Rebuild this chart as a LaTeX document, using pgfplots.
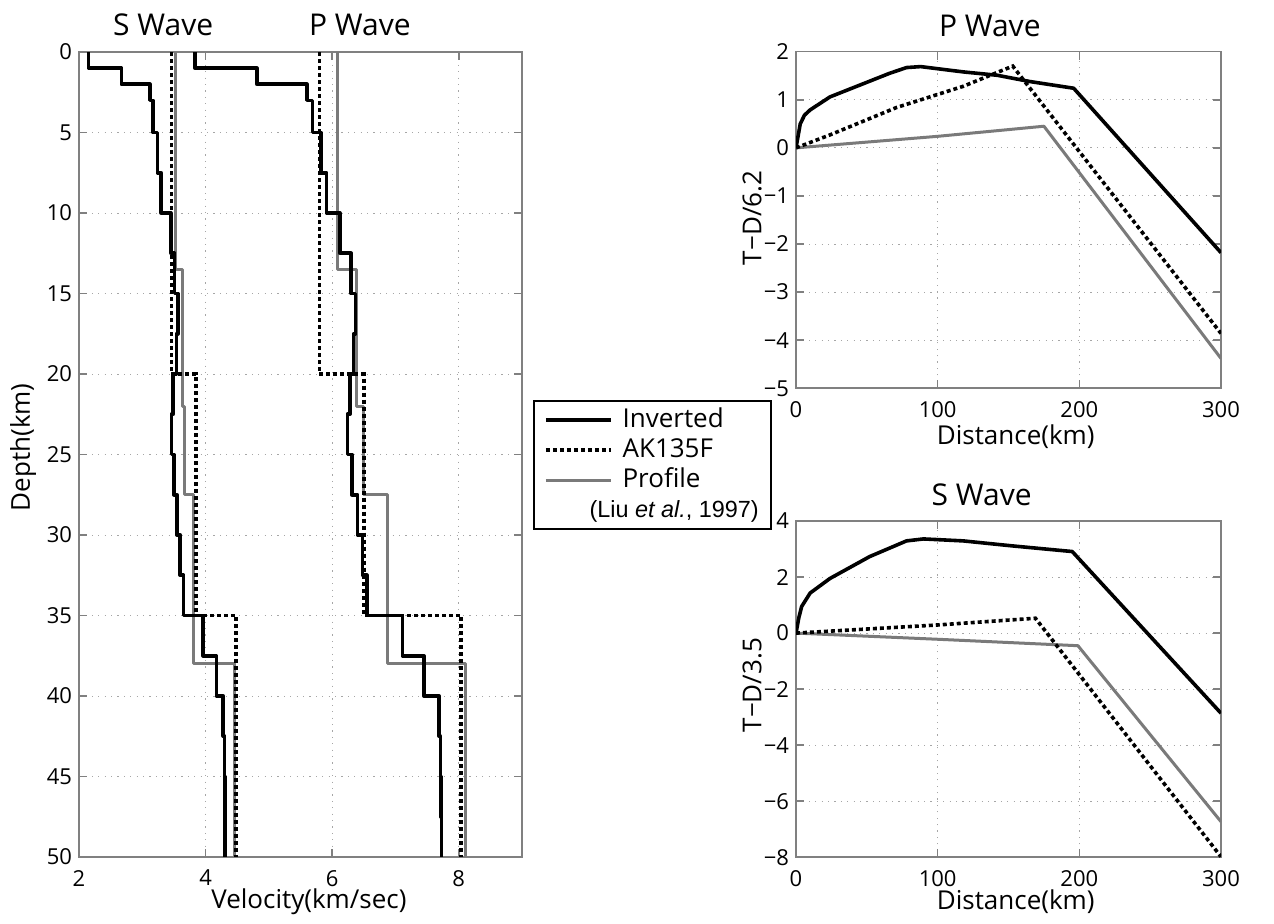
\documentclass[border=0pt]{standalone}
\usepackage{fontspec}
\setmainfont{Open Sans}
\newfontfamily\liufont{Liberation Sans}
\usepackage{pgfplots}
\pgfplotsset{compat=1.18}
\begin{document}
\begin{tikzpicture}
\useasboundingbox (0pt,0pt) rectangle (637pt,462pt);
\pgfplotsset{
  mstyle/.style={
    scale only axis,
    clip mode=individual,
    axis line style={black!50, line width=0.8pt},
    tick style={black!50, line width=0.8pt},
    major tick length=4pt,
    tick align=inside,
    grid=major,
    major grid style={black!35, line width=0.5pt, dash pattern=on 0.6pt off 2.6pt},
    ticklabel style={font=\fontsize{11}{13}\selectfont, text=black},
    /pgf/number format/assume math mode=true,
    label style={font=\fontsize{13}{15}\selectfont},
    xticklabel style={yshift=-3pt},
  },
  blk/.style={black, line width=1.8pt, line join=round},
  dts/.style={black, line width=1.8pt, dash pattern=on 2pt off 1.5pt},
  gry/.style={black!52, line width=1.5pt, line join=round},
}
% ---------------- Left: velocity-depth profiles ----------------
\begin{axis}[mstyle, at={(39.5pt,33.5pt)}, anchor=south west,
  width=221.5pt, height=402.5pt,
  xmin=2, xmax=9, ymin=0, ymax=50, y dir=reverse,
  xtick={2,4,6,8}, ytick={0,5,...,50},
  xlabel={Velocity(km/sec)}, ylabel={Depth(km)},
  xlabel style={at={(axis description cs:0.519,-0.056)}, anchor=center},
  ylabel style={at={(axis description cs:-0.126,0.509)}, anchor=center},
  legend style={at={(axis description cs:1.0248,0.5677)}, anchor=north west,
    draw=black, line width=1pt, font=\fontsize{13}{15}\selectfont,
    nodes={inner sep=1pt, text height=10pt, text depth=3pt},
    row sep=0pt, column sep=4pt, inner xsep=5pt, inner ysep=2pt},
  legend cell align=left,
  legend image code/.code={\draw[#1] (0pt,0pt) -- (32.5pt,0pt);},
]
\addlegendimage{blk}\addlegendentry{Inverted}
\addlegendimage{dts}\addlegendentry{AK135F}
\addlegendimage{gry}\addlegendentry{Profile}
\addlegendimage{empty legend}\addlegendentry{\hspace*{-16.5pt}\liufont\fontsize{11.7}{13}\selectfont (Liu \textit{et al.}, 1997)}
% Profile (Liu et al., 1997) S
\addplot[gry, forget plot] coordinates {(3.53,0) (3.53,13.5) (3.64,13.5) (3.64,22) (3.67,22) (3.67,27.5) (3.81,27.5) (3.81,38) (4.46,38) (4.46,50)};
% Profile P
\addplot[gry, forget plot] coordinates {(6.08,0) (6.08,13.5) (6.38,13.5) (6.38,22) (6.50,22) (6.50,27.5) (6.88,27.5) (6.88,38) (8.10,38) (8.10,50)};
% AK135F S
\addplot[dts, forget plot] coordinates {(3.46,0) (3.46,20) (3.85,20) (3.85,35) (4.48,35) (4.48,50)};
% AK135F P
\addplot[dts, forget plot] coordinates {(5.80,0) (5.80,20) (6.50,20) (6.50,35) (8.04,35) (8.04,50)};
% Inverted S
\addplot[blk, forget plot] coordinates {
 (2.15,0) (2.15,1) (2.67,1) (2.67,2) (3.12,2) (3.12,3) (3.17,3) (3.17,5)
 (3.24,5) (3.24,7.5) (3.30,7.5) (3.30,10) (3.45,10) (3.45,12.5) (3.51,12.5) (3.51,15)
 (3.56,15) (3.56,17.5) (3.54,17.5) (3.54,20) (3.49,20) (3.49,22.5) (3.46,22.5) (3.46,25)
 (3.50,25) (3.50,27.5) (3.55,27.5) (3.55,30) (3.60,30) (3.60,32.5) (3.65,32.5) (3.65,35)
 (3.96,35) (3.96,37.5) (4.17,37.5) (4.17,40) (4.28,40) (4.28,42.5) (4.30,42.5) (4.30,45)
 (4.31,45) (4.31,50)};
% Inverted P
\addplot[blk, forget plot] coordinates {
 (3.83,0) (3.83,1) (4.81,1) (4.81,2) (5.60,2) (5.60,3) (5.69,3) (5.69,5)
 (5.82,5) (5.82,7.5) (5.91,7.5) (5.91,10) (6.12,10) (6.12,12.5) (6.30,12.5) (6.30,15)
 (6.37,15) (6.37,17.5) (6.34,17.5) (6.34,20) (6.28,20) (6.28,22.5) (6.24,22.5) (6.24,25)
 (6.31,25) (6.31,27.5) (6.40,27.5) (6.40,30) (6.48,30) (6.48,32.5) (6.55,32.5) (6.55,35)
 (7.11,35) (7.11,37.5) (7.45,37.5) (7.45,40) (7.69,40) (7.69,42.5) (7.71,42.5) (7.71,45)
 (7.72,45) (7.72,47.5) (7.73,47.5) (7.73,50)};
\node[font=\fontsize{15}{17}\selectfont, anchor=base, yshift=8.5pt] at (axis description cs:0.19,1) {S Wave};
\node[font=\fontsize{15}{17}\selectfont, anchor=base, yshift=8.5pt] at (axis description cs:0.634,1) {P Wave};
\end{axis}
% ---------------- Right top: P wave travel times ----------------
\begin{axis}[mstyle, at={(398pt,267.85pt)}, anchor=south west,
  width=212.5pt, height=168.3pt,
  xmin=0, xmax=300, ymin=-5, ymax=2,
  xtick={0,100,200,300}, ytick={-5,-4,-3,-2,-1,0,1,2},
  yticklabels={−5,−4,−3,−2,−1,0,1,2},
  xlabel={Distance(km)}, ylabel={T−D/6.2},
  xlabel style={at={(axis description cs:0.517,-0.145)}, anchor=center},
  ylabel style={at={(axis description cs:-0.1035,0.506)}, anchor=center},
]
\addplot[gry] coordinates {(0,0) (100,0.24) (175,0.45) (300,-4.38)};
\addplot[dts] coordinates {(0,0) (24,0.27) (71,0.84) (118,1.28) (153,1.70) (300,-3.86)};
\addplot[blk] coordinates {(0,0) (3,0.5) (6,0.68) (10,0.79) (24,1.06) (48,1.34) (66,1.55) (78,1.67) (88,1.69) (118,1.58) (142,1.51) (165,1.38) (196,1.24) (300,-2.18)};
\node[font=\fontsize{15}{17}\selectfont, anchor=base, yshift=7.8pt] at (axis description cs:0.456,1) {P Wave};
\end{axis}
% ---------------- Right bottom: S wave travel times ----------------
\begin{axis}[mstyle, at={(398pt,33.35pt)}, anchor=south west,
  width=212.5pt, height=168.15pt,
  xmin=0, xmax=300, ymin=-8, ymax=4,
  xtick={0,100,200,300}, ytick={-8,-6,-4,-2,0,2,4},
  yticklabels={−8,−6,−4,−2,0,2,4},
  xlabel={Distance(km)}, ylabel={T−D/3.5},
  xlabel style={at={(axis description cs:0.517,-0.133)}, anchor=center},
  ylabel style={at={(axis description cs:-0.1035,0.512)}, anchor=center},
]
\addplot[gry] coordinates {(0,0) (100,-0.22) (199,-0.45) (300,-6.73)};
\addplot[dts] coordinates {(0,0) (100,0.29) (169,0.53) (300,-7.98)};
\addplot[blk] coordinates {(0,0) (2,0.55) (4,0.95) (10,1.43) (24,1.95) (52,2.73) (78,3.29) (90,3.36) (118,3.29) (153,3.11) (195,2.91) (300,-2.86)};
\node[font=\fontsize{15}{17}\selectfont, anchor=base, yshift=7.7pt] at (axis description cs:0.437,1) {S Wave};
\end{axis}
\end{tikzpicture}
\end{document}
